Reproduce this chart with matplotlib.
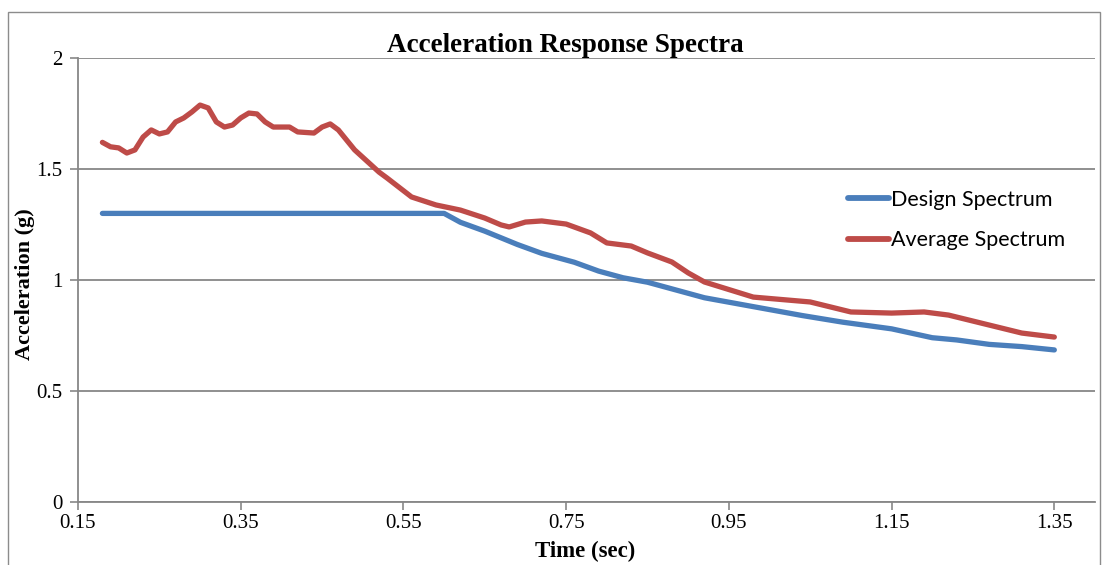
import matplotlib
matplotlib.use('Agg')
import matplotlib.pyplot as plt
from matplotlib.patches import Rectangle

# period (sec) and spectral acceleration (g)
design_period = [0.18, 0.60, 0.62, 0.65, 0.67, 0.69, 0.72, 0.76, 0.79, 0.82,
                 0.85, 0.89, 0.92, 0.98, 1.04, 1.09, 1.15, 1.20, 1.23, 1.27,
                 1.31, 1.35]
design_acc = [1.30, 1.30, 1.26, 1.22, 1.19, 1.16, 1.12, 1.08, 1.04, 1.01,
              0.99, 0.95, 0.92, 0.88, 0.84, 0.81, 0.78, 0.74, 0.73, 0.71,
              0.70, 0.685]

average_period = [0.18, 0.19, 0.20, 0.21, 0.22, 0.23, 0.24, 0.25, 0.26, 0.27,
                  0.28, 0.29, 0.30, 0.31, 0.32, 0.33, 0.34, 0.35, 0.36, 0.37,
                  0.38, 0.39, 0.41, 0.42, 0.44, 0.45, 0.46, 0.47, 0.49, 0.52,
                  0.53, 0.56, 0.59, 0.62, 0.65, 0.67, 0.68, 0.70, 0.72, 0.75,
                  0.78, 0.80, 0.83, 0.85, 0.88, 0.90, 0.92, 0.98, 1.05, 1.10,
                  1.15, 1.19, 1.22, 1.27, 1.31, 1.35]
average_acc = [1.62, 1.60, 1.595, 1.572, 1.586, 1.644, 1.676, 1.658, 1.667, 1.712,
               1.730, 1.757, 1.788, 1.775, 1.712, 1.689, 1.698, 1.730, 1.752, 1.748,
               1.712, 1.689, 1.689, 1.667, 1.662, 1.689, 1.703, 1.676, 1.586, 1.486,
               1.459, 1.374, 1.338, 1.315, 1.279, 1.248, 1.239, 1.261, 1.266, 1.252,
               1.212, 1.167, 1.153, 1.122, 1.081, 1.032, 0.991, 0.923, 0.901, 0.856,
               0.851, 0.856, 0.842, 0.797, 0.761, 0.743]

x_ticks = [0.15, 0.35, 0.55, 0.75, 0.95, 1.15, 1.35]
y_ticks = [0, 0.5, 1, 1.5, 2]

grid_color = '#878787'
serif = ['Liberation Serif', 'DejaVu Serif']

fig = plt.figure(figsize=(11.14, 5.65), dpi=100)
fig.patches.append(Rectangle((8 / 1114, -0.05), 1092 / 1114, 1.05 - 12 / 565,
                             transform=fig.transFigure, fill=False,
                             edgecolor='#8c8c8c', linewidth=1.0))

ax = fig.add_axes([78 / 1114, 63 / 565, 1017 / 1114, 444 / 565])
ax.plot(design_period, design_acc, color='#4A7EBB', linewidth=3.8,
        solid_capstyle='round', label='Design Spectrum', zorder=3)
ax.plot(average_period, average_acc, color='#BE4B48', linewidth=3.8,
        solid_capstyle='round', label='Average Spectrum', zorder=3)

ax.set_xlim(0.15, 1.40)
ax.set_ylim(0, 2)
ax.set_xticks(x_ticks)
ax.set_xticklabels([f'{t:.2f}' for t in x_ticks])
ax.set_yticks(y_ticks)
ax.set_yticklabels(['0', '0.5', '1', '1.5', '2'])
ax.yaxis.grid(True, color=grid_color, linewidth=1.3)
ax.set_axisbelow(True)

for side in ['top', 'right']:
    ax.spines[side].set_visible(False)
for side in ['left', 'bottom']:
    ax.spines[side].set_color(grid_color)
    ax.spines[side].set_linewidth(1.3)
ax.tick_params(axis='both', direction='out', length=6, width=1.2,
               color=grid_color, labelsize=15, pad=5)
ax.tick_params(axis='x', pad=3)
for lbl in ax.get_xticklabels() + ax.get_yticklabels():
    lbl.set_family(serif)

ax.set_title('Acceleration Response Spectra', family=serif, fontweight='bold',
             fontsize=19.5, pad=4, x=0.479)
ax.set_xlabel('Time (sec)', family=serif, fontweight='bold', fontsize=16.5)
ax.xaxis.set_label_coords(0.4985, -0.088)
ax.set_ylabel('Acceleration (g)', family=serif, fontweight='bold', fontsize=16,
              va='center')
ax.yaxis.set_label_coords(-0.052, 0.49)

leg = ax.legend(loc='upper left', bbox_to_anchor=(0.742, 0.737), frameon=False,
                handlelength=1.9, handletextpad=0.1, labelspacing=0.95,
                borderpad=0.2,
                prop={'family': ['Lato', 'DejaVu Sans'], 'size': 15.5})
for line in leg.get_lines():
    line.set_linewidth(4.2)

fig.savefig('out.png', dpi=100)
